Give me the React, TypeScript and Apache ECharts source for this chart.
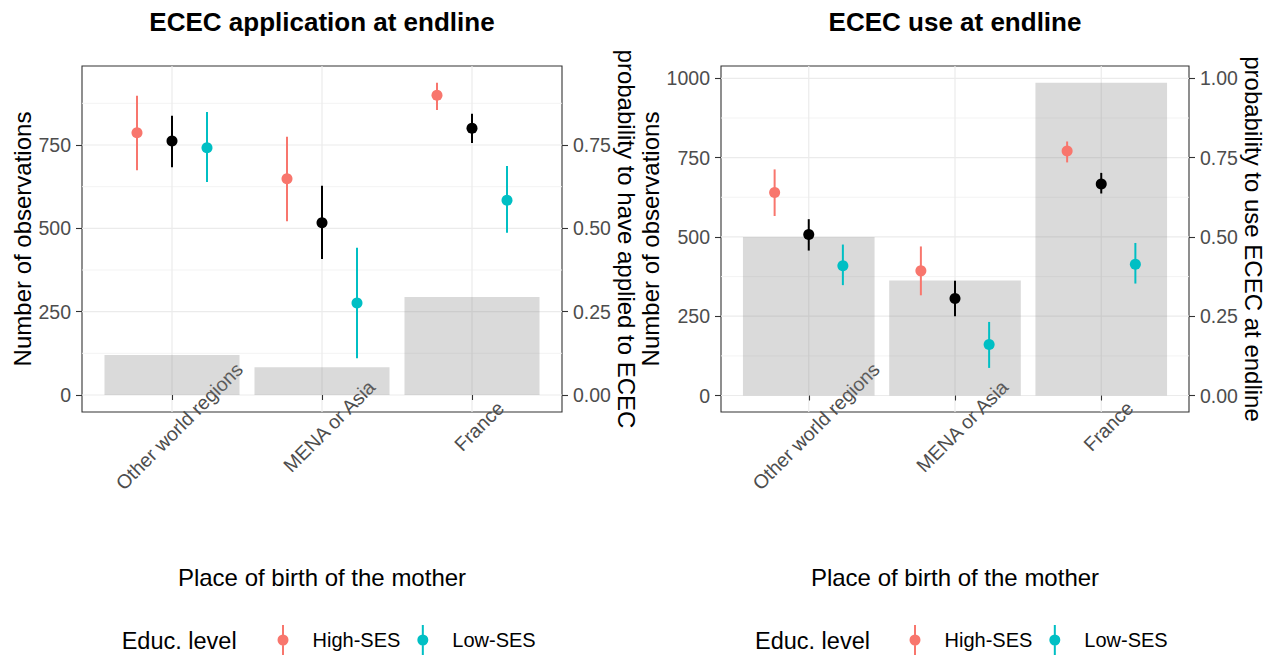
import React, { useEffect, useRef } from 'react';
import * as echarts from 'echarts';

const FONT = '"Liberation Sans", Arial, Helvetica, sans-serif';
const HIGH = '#F8766D';
const LOW = '#00BFC4';
const ALL = '#000000';

const regions = ['Other world regions', 'MENA or Asia', 'France'];
const groupNames = ['High-SES', 'Low-SES'];

// Panel 1: ECEC application at endline
const appCount = [120, 83, 294];
const appHighMean = [0.787, 0.649, 0.899];
const appHighLo = [0.674, 0.521, 0.855];
const appHighHi = [0.898, 0.775, 0.937];
const appAllMean = [0.762, 0.517, 0.8];
const appAllLo = [0.683, 0.408, 0.756];
const appAllHi = [0.838, 0.628, 0.844];
const appLowMean = [0.742, 0.276, 0.584];
const appLowLo = [0.639, 0.11, 0.487];
const appLowHi = [0.849, 0.442, 0.687];

// Panel 2: ECEC use at endline
const useCount = [500, 363, 986];
const useHighMean = [0.64, 0.393, 0.771];
const useHighLo = [0.566, 0.316, 0.735];
const useHighHi = [0.713, 0.47, 0.801];
const useAllMean = [0.508, 0.306, 0.667];
const useAllLo = [0.457, 0.25, 0.637];
const useAllHi = [0.556, 0.362, 0.702];
const useLowMean = [0.409, 0.161, 0.414];
const useLowLo = [0.348, 0.087, 0.353];
const useLowHi = [0.476, 0.232, 0.481];

// tick values
const appCountTicks = [0, 250, 500, 750];
const appProbTicks = [0, 0.25, 0.5, 0.75];
const useCountTicks = [0, 250, 500, 750, 1000];
const useProbTicks = [0, 0.25, 0.5, 0.75, 1];
const countMinorTicks = [125, 375, 625, 875];
const catPositions = [1, 2, 3];

const dodge = 0.7 / 3;
const barWidth = 0.9;

const ICON =
  'path://M4.5,0H6.5V30H4.5Z M0,15A5.5,5.5 0 1 1 11,15A5.5,5.5 0 1 1 0,15Z';

function gridLineSeries(xi: number, yi: number, major: number[], minor: number[]) {
  const data: number[][] = [];
  major.forEach((v) => data.push([0, v]));
  minor.forEach((v) => data.push([1, v]));
  catPositions.forEach((v) => data.push([2, v]));
  return {
    type: 'custom',
    xAxisIndex: xi,
    yAxisIndex: yi,
    silent: true,
    z: 0,
    data,
    renderItem: (params: any, api: any) => {
      const cs = params.coordSys;
      const kind = api.value(0);
      const v = api.value(1);
      if (kind === 2) {
        const x = api.coord([v, 0])[0];
        return {
          type: 'line',
          shape: { x1: x, y1: cs.y, x2: x, y2: cs.y + cs.height },
          style: { stroke: '#ebebeb', lineWidth: 1.2 },
        };
      }
      const y = api.coord([1, v])[1];
      return {
        type: 'line',
        shape: { x1: cs.x, y1: y, x2: cs.x + cs.width, y2: y },
        style: { stroke: kind === 0 ? '#ebebeb' : '#f2f2f2', lineWidth: kind === 0 ? 1.2 : 0.9 },
      };
    },
  };
}

function barSeries(xi: number, yi: number, counts: number[]) {
  return {
    type: 'custom',
    name: 'Number of observations',
    xAxisIndex: xi,
    yAxisIndex: yi,
    z: 1,
    data: counts.map((c, i) => [i + 1, c]),
    renderItem: (params: any, api: any) => {
      const x = api.value(0);
      const h = api.value(1);
      const p0 = api.coord([x - barWidth / 2, h]);
      const p1 = api.coord([x + barWidth / 2, 0]);
      return {
        type: 'rect',
        shape: { x: p0[0], y: p0[1], width: p1[0] - p0[0], height: p1[1] - p0[1] },
        style: { fill: 'rgba(127,127,127,0.29)' },
      };
    },
  };
}

function errSeries(name: string, xi: number, yi: number, off: number, lo: number[], hi: number[], color: string) {
  return {
    type: 'custom',
    name,
    xAxisIndex: xi,
    yAxisIndex: yi,
    z: 2,
    data: lo.map((l, i) => [i + 1 + off, l, hi[i]]),
    renderItem: (params: any, api: any) => {
      const x = api.value(0);
      const a = api.coord([x, api.value(1)]);
      const b = api.coord([x, api.value(2)]);
      return {
        type: 'line',
        shape: { x1: a[0], y1: a[1], x2: b[0], y2: b[1] },
        style: { stroke: color, lineWidth: 2 },
      };
    },
  };
}

function pointSeries(name: string, xi: number, yi: number, off: number, mean: number[], color: string) {
  return {
    type: 'scatter',
    name,
    xAxisIndex: xi,
    yAxisIndex: yi,
    z: 3,
    symbol: 'circle',
    symbolSize: 11,
    itemStyle: { color, opacity: 1 },
    data: mean.map((m, i) => [i + 1 + off, m]),
  };
}

const tickLabel = { fontSize: 19.5, color: '#4d4d4d', fontFamily: FONT };
const nameStyle = { fontSize: 24, color: '#000', fontFamily: FONT };

function xAxisFor(gi: number) {
  return {
    type: 'value',
    gridIndex: gi,
    min: 0.4,
    max: 3.6,
    name: 'Place of birth of the mother',
    nameLocation: 'middle',
    nameGap: 153,
    nameTextStyle: nameStyle,
    axisLine: { show: false },
    splitLine: { show: false },
    axisTick: { show: true, length: 5, customValues: catPositions, lineStyle: { color: '#333', width: 1.1 } },
    axisLabel: {
      ...tickLabel,
      customValues: catPositions,
      rotate: 45,
      align: 'center',
      verticalAlign: 'top',
      margin: 7,
      formatter: (v: number) => regions[Math.round(v) - 1] || '',
    },
  };
}

function yAxisFor(gi: number, pos: string, min: number, max: number, ticks: number[], name: string, prob: boolean) {
  return {
    type: 'value',
    gridIndex: gi,
    position: pos,
    min,
    max,
    name,
    nameLocation: 'middle',
    nameRotate: pos === 'left' ? 90 : -90,
    nameGap: pos === 'left' ? 47 : 49,
    nameTextStyle: nameStyle,
    axisLine: { show: false },
    splitLine: { show: false },
    axisTick: { show: true, length: 6, customValues: ticks, lineStyle: { color: '#333', width: 1.1 } },
    axisLabel: {
      ...tickLabel,
      customValues: ticks,
      margin: 11,
      formatter: (v: number) => (prob ? v.toFixed(2) : String(Math.round(v))),
    },
  };
}

function legendFor(left: number) {
  return {
    left,
    top: 625,
    orient: 'horizontal',
    padding: 0,
    itemWidth: 11,
    itemHeight: 30,
    itemGap: 17,
    selectedMode: false,
    data: groupNames.map((n, i) => ({ name: n, icon: ICON, itemStyle: { color: i === 0 ? HIGH : LOW } })),
    textStyle: { fontSize: 20, color: '#000', fontFamily: FONT, padding: [0, 0, 0, 19] },
  };
}

export default function App() {
  const ref = useRef<HTMLDivElement>(null);
  useEffect(() => {
    if (!ref.current) return;
    const chart = echarts.init(ref.current, undefined, { renderer: 'svg' });
    const option: any = {
      animation: false,
      backgroundColor: '#ffffff',
      textStyle: { fontFamily: FONT },
      grid: [
        { left: 82, top: 66, width: 480, height: 346, show: true, borderColor: '#333', borderWidth: 1.1, backgroundColor: 'transparent' },
        { left: 721, top: 66, width: 468, height: 346, show: true, borderColor: '#333', borderWidth: 1.1, backgroundColor: 'transparent' },
      ],
      xAxis: [xAxisFor(0), xAxisFor(1)],
      yAxis: [
        yAxisFor(0, 'left', -51, 987, appCountTicks, 'Number of observations', false),
        yAxisFor(0, 'right', -0.051, 0.987, appProbTicks, 'probability to have applied to ECEC', true),
        yAxisFor(1, 'left', -52, 1039, useCountTicks, 'Number of observations', false),
        yAxisFor(1, 'right', -0.052, 1.039, useProbTicks, 'probability to use ECEC at endline', true),
      ],
      legend: [legendFor(277.5), legendFor(909.5)],
      graphic: [
        { type: 'text', x: 322, y: 22, style: { text: 'ECEC application at endline', fontSize: 26, fontWeight: 'bold', fontFamily: FONT, fill: '#000', align: 'center', verticalAlign: 'middle' } },
        { type: 'text', x: 955, y: 22, style: { text: 'ECEC use at endline', fontSize: 26, fontWeight: 'bold', fontFamily: FONT, fill: '#000', align: 'center', verticalAlign: 'middle' } },
        { type: 'text', x: 121.7, y: 641, style: { text: 'Educ. level', fontSize: 23.5, fontFamily: FONT, fill: '#000', align: 'left', verticalAlign: 'middle' } },
        { type: 'text', x: 755, y: 641, style: { text: 'Educ. level', fontSize: 23.5, fontFamily: FONT, fill: '#000', align: 'left', verticalAlign: 'middle' } },
      ],
      series: [
        gridLineSeries(0, 0, appCountTicks, countMinorTicks),
        barSeries(0, 0, appCount),
        errSeries('High-SES', 0, 1, -dodge, appHighLo, appHighHi, HIGH),
        errSeries('Overall', 0, 1, 0, appAllLo, appAllHi, ALL),
        errSeries('Low-SES', 0, 1, dodge, appLowLo, appLowHi, LOW),
        pointSeries('High-SES', 0, 1, -dodge, appHighMean, HIGH),
        pointSeries('Overall', 0, 1, 0, appAllMean, ALL),
        pointSeries('Low-SES', 0, 1, dodge, appLowMean, LOW),

        gridLineSeries(1, 2, useCountTicks, countMinorTicks),
        barSeries(1, 2, useCount),
        errSeries('High-SES', 1, 3, -dodge, useHighLo, useHighHi, HIGH),
        errSeries('Overall', 1, 3, 0, useAllLo, useAllHi, ALL),
        errSeries('Low-SES', 1, 3, dodge, useLowLo, useLowHi, LOW),
        pointSeries('High-SES', 1, 3, -dodge, useHighMean, HIGH),
        pointSeries('Overall', 1, 3, 0, useAllMean, ALL),
        pointSeries('Low-SES', 1, 3, dodge, useLowMean, LOW),
      ],
    };
    chart.setOption(option);
    return () => chart.dispose();
  }, []);
  return <div ref={ref} style={{ position: 'fixed', left: 0, top: 0, width: 1274, height: 655 }} />;
}
